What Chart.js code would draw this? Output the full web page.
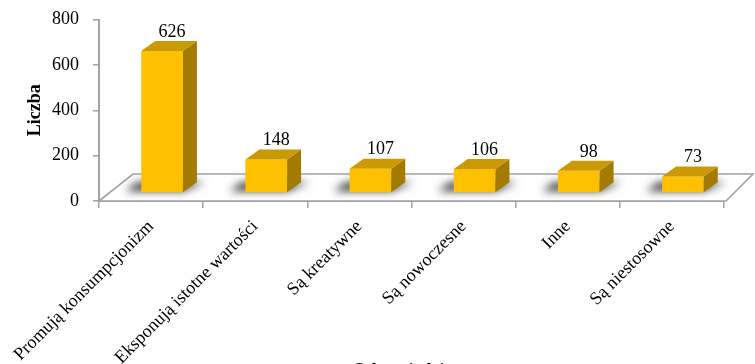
<!DOCTYPE html>
<html>
<head>
<meta charset="utf-8">
<script src="https://cdn.jsdelivr.net/npm/chart.js@4.4.1/dist/chart.umd.min.js"></script>
<style>
  html, body { margin: 0; padding: 0; background: #fff; overflow: hidden; }
  #wrap { width: 755px; height: 364px; overflow: hidden; }
  canvas { display: block; }
</style>
</head>
<body>
<div id="wrap"><canvas id="c" width="755" height="380"></canvas></div>
<script>
// Survey answers and how many respondents gave each one
const categories = [
  'Promują konsumpcjonizm',
  'Eksponują istotne wartości',
  'Są kreatywne',
  'Są nowoczesne',
  'Inne',
  'Są niestosowne'
];
const counts = [626, 148, 107, 106, 98, 73];
const yTicks = [0, 200, 400, 600, 800];
const yTitle = 'Liczba';
const xTitle = 'Odpowiedzi';

// Look of the 3-D columns
const FONT = '"Liberation Serif", "Times New Roman", serif';
const FRONT = '#FFC000';
const TOP = '#C99A06';
const SIDE = '#A37B00';
const AXIS = '#A3A3A3';
const SHIFT = { x: 11, y: -8 };   // columns stand half-way back on the floor
const DEPTH = { x: 14, y: -10 };  // column depth
const FLOOR = { lx: 34, rx: 29, dy: -27 };

const box3d = {
  id: 'box3d',
  beforeDatasetsDraw(chart) {
    const { ctx, chartArea: a } = chart;
    const y0 = chart.scales.y.getPixelForValue(0);
    ctx.save();
    // floor
    ctx.beginPath();
    ctx.moveTo(a.left, y0);
    ctx.lineTo(a.left + FLOOR.lx, y0 + FLOOR.dy);
    ctx.lineTo(a.right + FLOOR.rx, y0 + FLOOR.dy);
    ctx.lineTo(a.right + 2, y0);
    ctx.closePath();
    ctx.fillStyle = '#fff';
    ctx.fill();
    ctx.strokeStyle = AXIS;
    ctx.lineWidth = 1.6;
    ctx.stroke();
    ctx.restore();

    ctx.save();
    ctx.translate(SHIFT.x, SHIFT.y);
    // soft shadows on the floor around each column foot
    const meta = chart.getDatasetMeta(0);
    ctx.save();
    ctx.filter = 'blur(4px)';
    ctx.fillStyle = 'rgba(0,0,0,0.75)';
    meta.data.forEach(b => {
      const p = b.getProps(['x', 'y', 'base', 'width'], true);
      const x1 = p.x - p.width / 2, x2 = p.x + p.width / 2, yb = p.base;
      ctx.beginPath();
      ctx.moveTo(x1 - 16, yb - 1);
      ctx.lineTo(x2, yb - 1);
      ctx.lineTo(x2 + DEPTH.x + 8, yb + DEPTH.y);
      ctx.lineTo(x1 + DEPTH.x - 18, yb + DEPTH.y);
      ctx.closePath();
      ctx.fill();
    });
    ctx.restore();
  },
  afterDatasetsDraw(chart) {
    const { ctx } = chart;
    const meta = chart.getDatasetMeta(0);
    meta.data.forEach(b => {
      const p = b.getProps(['x', 'y', 'base', 'width'], true);
      const x1 = p.x - p.width / 2, x2 = p.x + p.width / 2;
      // side face
      ctx.beginPath();
      ctx.moveTo(x2, p.y);
      ctx.lineTo(x2 + DEPTH.x, p.y + DEPTH.y);
      ctx.lineTo(x2 + DEPTH.x, p.base + DEPTH.y);
      ctx.lineTo(x2, p.base);
      ctx.closePath();
      ctx.fillStyle = SIDE;
      ctx.fill();
      // top face
      ctx.beginPath();
      ctx.moveTo(x1, p.y);
      ctx.lineTo(x1 + DEPTH.x, p.y + DEPTH.y);
      ctx.lineTo(x2 + DEPTH.x, p.y + DEPTH.y);
      ctx.lineTo(x2, p.y);
      ctx.closePath();
      ctx.fillStyle = TOP;
      ctx.fill();
    });
    ctx.restore();

    // value labels above the columns
    ctx.save();
    ctx.font = '18px ' + FONT;
    ctx.fillStyle = '#000';
    ctx.textAlign = 'center';
    ctx.textBaseline = 'middle';
    meta.data.forEach((b, i) => {
      const p = b.getProps(['x', 'y'], true);
      ctx.fillText(String(counts[i]), p.x + SHIFT.x + 10, p.y + SHIFT.y - 19);
    });
    ctx.restore();
  },
  afterDraw(chart) {
    const { ctx, chartArea: a } = chart;
    ctx.save();
    ctx.font = 'bold 18px ' + FONT;
    ctx.fillStyle = '#000';
    ctx.textAlign = 'center';
    ctx.textBaseline = 'alphabetic';
    ctx.fillText(xTitle, (a.left + a.right) / 2 - 13, 376);
    ctx.restore();
  }
};

new Chart(document.getElementById('c'), {
  type: 'bar',
  data: {
    labels: categories,
    datasets: [{
      data: counts,
      backgroundColor: FRONT,
      borderWidth: 0,
      barPercentage: 0.4,
      categoryPercentage: 1.0,
      clip: false
    }]
  },
  options: {
    responsive: false,
    animation: false,
    devicePixelRatio: 1,
    layout: { padding: { top: 19.5, right: 31, left: 0, bottom: 0 } },
    plugins: { legend: { display: false }, tooltip: { enabled: false } },
    scales: {
      x: {
        offset: true,
        grid: { display: true, drawOnChartArea: false, drawTicks: true, tickLength: 7, color: AXIS, lineWidth: 1.5, offset: true },
        border: { display: true, color: AXIS, width: 2 },
        ticks: {
          minRotation: 45, maxRotation: 45, autoSkip: false, padding: 8,
          color: '#000', font: { family: FONT, size: 18 }
        },
        afterFit(s) { s.height = 179; s.paddingLeft = 0; s.paddingRight = 0; }
      },
      y: {
        min: 0, max: 800,
        afterBuildTicks(s) { s.ticks = yTicks.map(v => ({ value: v })); },
        grid: { drawOnChartArea: false, tickLength: 6, color: AXIS, lineWidth: 1.5 },
        border: { color: AXIS, width: 2 },
        ticks: { padding: 14, color: '#000', font: { family: FONT, size: 18 } },
        title: {
          display: true, text: yTitle, color: '#000',
          font: { family: FONT, size: 18, weight: 'bold' },
          padding: { top: 25, bottom: 0 }
        },
        afterFit(s) { s.width = 99; s.paddingTop = 0; s.paddingBottom = 0; }
      }
    }
  },
  plugins: [box3d]
});
</script>
</body>
</html>
